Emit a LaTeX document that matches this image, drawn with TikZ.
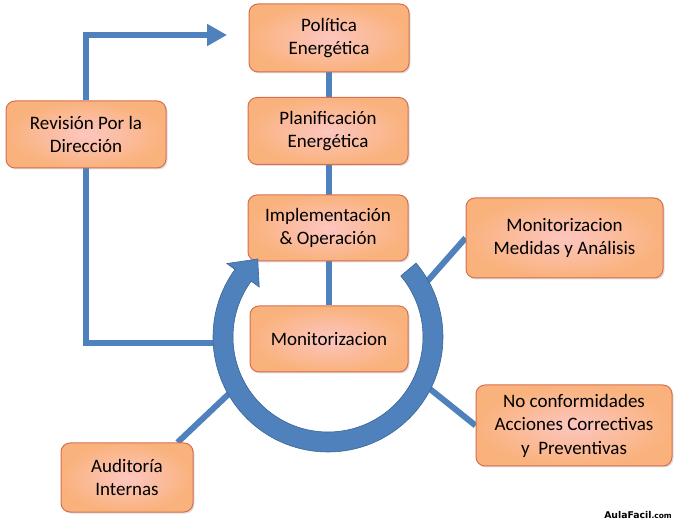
\documentclass[tikz,border=0pt]{standalone}
\usepackage{fontspec}
\setmainfont{Carlito}
\newfontfamily\wmfont{DejaVu Sans}
\usetikzlibrary{arrows.meta,shadows,backgrounds,calc}
\definecolor{boxedge}{RGB}{214,110,80}
\definecolor{boxouter}{RGB}{250,178,124}
\definecolor{boxinner}{RGB}{252,198,192}
\definecolor{linkblue}{RGB}{79,129,189}
\definecolor{ringblue}{RGB}{79,129,189}
\definecolor{ringedge}{RGB}{58,100,150}
\tikzset{
  procbox/.style={draw=boxedge, line width=1pt, rounded corners=9pt,
    shading=radial, inner color=boxinner, outer color=boxouter,
    align=center, font=\fontsize{19}{23.5}\selectfont, inner sep=2pt,
    drop shadow={shadow xshift=1.5pt, shadow yshift=-1.5pt, opacity=0.25}},
  link/.style={draw=linkblue, line width=6pt},
}
\begin{document}
\begin{tikzpicture}[x=1pt,y=-1pt]
\useasboundingbox (0,0) rectangle (678,521);
% boxes
\node[procbox, minimum width=160pt, minimum height=68pt] (pol) at (329,38) {Política\\Energética};
\node[procbox, minimum width=160pt, minimum height=67pt] (plan) at (328,131) {Planificación\\Energética};
\node[procbox, minimum width=160pt, minimum height=66pt] (impl) at (328,228) {Implementación\\\& Operación};
\node[procbox, minimum width=158pt, minimum height=66pt] (mon) at (329,339) {Monitorizacion};
\node[procbox, minimum width=160pt, minimum height=67pt] (rev) at (86,134.5) {Revisión Por la\\Dirección};
\node[procbox, minimum width=197pt, minimum height=80pt] (med) at (564.5,238) {Monitorizacion\\Medidas y Análisis};
\node[procbox, minimum width=196pt, minimum height=81pt] (noc) at (574,425.5) {No conformidades\\Acciones Correctivas\\y\ \ Preventivas};
\node[procbox, minimum width=132pt, minimum height=69pt] (aud) at (127,477.5) {Auditoría\\Internas};
% free ends
\coordinate (revtop) at (227,35);
\coordinate (revbot) at (214,343);
\coordinate (medend) at (424,285);
\coordinate (nocend) at (430,389);
\coordinate (audend) at (235,388);
\coordinate (ctr) at (328,337);
\begin{pgfonlayer}{background}
\draw[link] (pol.south) -- (mon.north);
\draw[link, -{Triangle[length=20pt,width=21pt]}] (rev.north) |- (revtop);
\draw[link] (rev.south) |- (revbot);
\draw[link] (med.west) -- (medend);
\draw[link] (noc.west) -- (nocend);
\draw[link] ([xshift=-16pt]aud.north east) -- (audend);
\end{pgfonlayer}
% ring arrow
\fill[ringblue, draw=ringedge, line width=0.6pt]
  ($(ctr)+(-40:115)$) arc[start angle=-40, end angle=216, radius=115]
  -- ($(ctr)+(216:125)$) -- ($(ctr)+(228:105)$) -- ($(ctr)+(216:85)$)
  -- ($(ctr)+(216:95)$) arc[start angle=216, end angle=-40, radius=95] -- cycle;
% watermark
\node[anchor=east, inner sep=0pt] (wm) at (672,515) {\wmfont\bfseries\fontsize{9.3}{11}\selectfont AulaFacil\fontsize{7.5}{9}\selectfont.com};
\end{tikzpicture}
\end{document}
